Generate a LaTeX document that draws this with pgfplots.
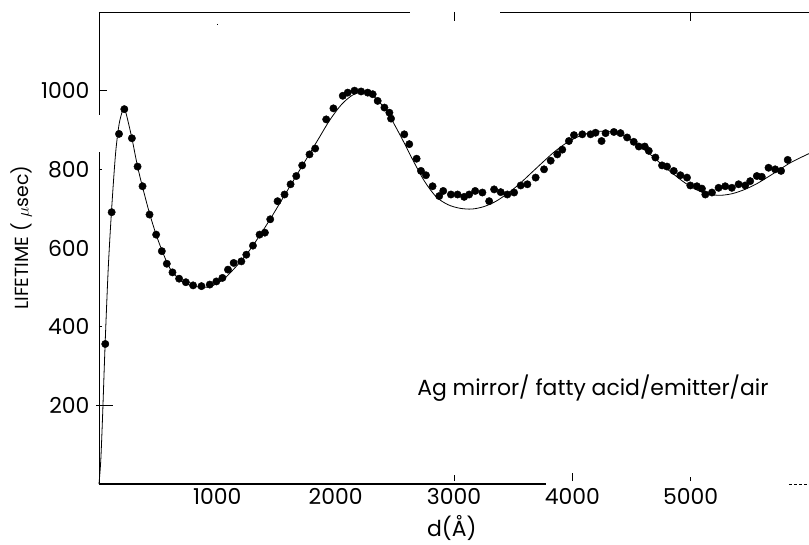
\documentclass[border=0pt]{standalone}
\usepackage{pgfplots}
\pgfplotsset{compat=1.18}
\usepackage{fontspec}
\setmainfont{Poppins}

\begin{document}
\begin{tikzpicture}
\begin{axis}[
    scale only axis,
    width=710bp, height=472bp,
    xmin=0, xmax=6000,
    ymin=0, ymax=1200,
    axis x line*=box,
    axis y line*=left,
    axis line style={draw=none},
    major tick length=0pt,
    xtick={1000,2000,3000,4000,5000},
    ytick={200,400,600,800,1000},
    /pgf/number format/assume math mode=true,
    /pgf/number format/1000 sep={},
    tick label style={font=\fontsize{22}{24}\selectfont},
    yticklabel style={xshift=-6bp},
    xticklabel style={yshift=-1bp},
    xlabel={d(Å)},
    ylabel={LIFETIME ( $\mu$sec)},
    xlabel style={font=\fontsize{22}{24}\selectfont,
      at={(axis description cs:0.497,-0.094)}, anchor=center},
    ylabel style={font=\fontsize{19}{22}\selectfont,
      at={(axis description cs:-0.109,0.522)}, anchor=center},
    clip=false,
]
% theory curve
\addplot[black, line width=0.8bp, smooth, tension=0.5] coordinates {
(0,0) (15,60) (30,170) (45,300) (60,420) (80,560) (107,700) (140,840)
(170,915) (200,950) (214,955) (235,935) (278,879) (326,807) (368,755)
(427,688) (483,634) (531,595) (600,548) (700,515) (800,503) (880,500)
(950,503) (1050,520) (1150,550) (1250,585) (1350,628) (1450,675)
(1550,725) (1650,775) (1750,825) (1850,875) (1950,925) (2050,965)
(2150,990) (2250,996) (2350,978) (2450,938) (2550,884) (2650,825)
(2750,770) (2850,730) (2950,710) (3050,701) (3150,699) (3250,705)
(3350,718) (3450,738) (3550,762) (3650,790) (3750,818) (3850,845)
(3950,867) (4050,883) (4150,893) (4250,897) (4350,894) (4450,883)
(4550,864) (4650,840) (4750,814) (4850,789) (4950,766) (5050,748)
(5150,737) (5250,734) (5350,738) (5450,748) (5550,762) (5650,780)
(5750,799) (5850,818) (6000,840)
};
% measured lifetimes
\addplot[only marks, mark=*, mark size=3.7bp, black] coordinates {
(53,356) (107,691) (169,890) (214,953) (278,879) (326,807) (368,757)
(427,685) (483,634) (531,592) (573,560) (621,538) (677,522) (734,513)
(795,505) (866,503) (936,507) (992,515) (1043,524) (1090,545) (1138,562)
(1203,566) (1245,583) (1301,606) (1357,634) (1402,639) (1447,673)
(1509,719) (1568,736) (1619,762) (1667,783) (1717,810) (1779,838)
(1827,853) (1920,927) (1981,955) (2060,987) (2102,995) (2159,1000)
(2215,998) (2271,995) (2313,991) (2355,974) (2412,957) (2454,944)
(2468,929) (2580,889) (2622,864) (2684,827) (2721,796) (2763,785)
(2819,757) (2875,732) (2909,745) (2974,736) (3030,736) (3086,730)
(3128,736) (3179,745) (3240,741) (3297,719) (3339,749) (3395,742)
(3451,736) (3508,741) (3564,759) (3620,762) (3690,779) (3761,800)
(3817,822) (3873,838) (3915,850) (3971,872) (4014,887) (4084,889)
(4154,889) (4196,893) (4247,872) (4281,892) (4351,895) (4407,892)
(4463,881) (4519,870) (4562,858) (4612,858) (4646,847) (4702,830)
(4758,810) (4800,807) (4857,796) (4913,785) (4969,779) (4997,759)
(5053,757) (5095,751) (5124,736) (5180,741) (5236,753) (5292,757)
(5348,753) (5405,762) (5461,759) (5503,770) (5559,783) (5601,781)
(5658,804) (5714,800) (5764,796) (5820,824)
};
% frame pieces as they appear in the scan
\draw[line width=0.9bp] (axis cs:0,1200) -- (axis cs:2628,1200);
\draw[line width=0.9bp] (axis cs:3389,1200) -- (axis cs:6000,1200);
\draw[line width=0.9bp] (axis cs:0,1200) -- (axis cs:0,938);
\draw[line width=0.9bp] (axis cs:0,844) -- (axis cs:0,0);
\draw[line width=1.1bp] (axis cs:0,0) -- (axis cs:3778,0);
\draw[line width=0.9bp, dash pattern=on 3bp off 2bp] (axis cs:5830,0) -- (axis cs:6000,0);
% the ticks that survive in the scan
\draw[line width=0.8bp] (axis cs:0,1000) -- ++(8bp,0);
\draw[line width=0.8bp] (axis cs:0,200) ++(-3bp,0) -- ++(17bp,0);
\draw[line width=0.8bp] (axis cs:0,400) -- ++(3bp,0);
\draw[line width=0.8bp] (axis cs:0,800) -- ++(3bp,0);
\draw[line width=0.8bp] (axis cs:3000,0) ++(0,3bp) -- ++(0,6bp);
\draw[line width=0.8bp] (axis cs:4000,0) ++(0,3bp) -- ++(0,8bp);
\draw[line width=0.8bp] (axis cs:5000,0) ++(0,3bp) -- ++(0,4bp);
\draw[line width=0.8bp] (axis cs:3000,1200) -- ++(0,-9bp);
\draw[line width=0.8bp] (axis cs:5000,1200) -- ++(0,-9bp);
\draw[line width=0.8bp] (axis cs:1000,1200) ++(0,-12bp) -- ++(0,-1bp);
\node[anchor=base west, font=\fontsize{22}{26}\selectfont, inner sep=0pt]
  at (axis cs:2688,226) {Ag mirror/ fatty acid/emitter/air};
\end{axis}
\pgfresetboundingbox
\path[use as bounding box] (-99bp,-61bp) rectangle (710bp,484bp);
\end{tikzpicture}
\end{document}
